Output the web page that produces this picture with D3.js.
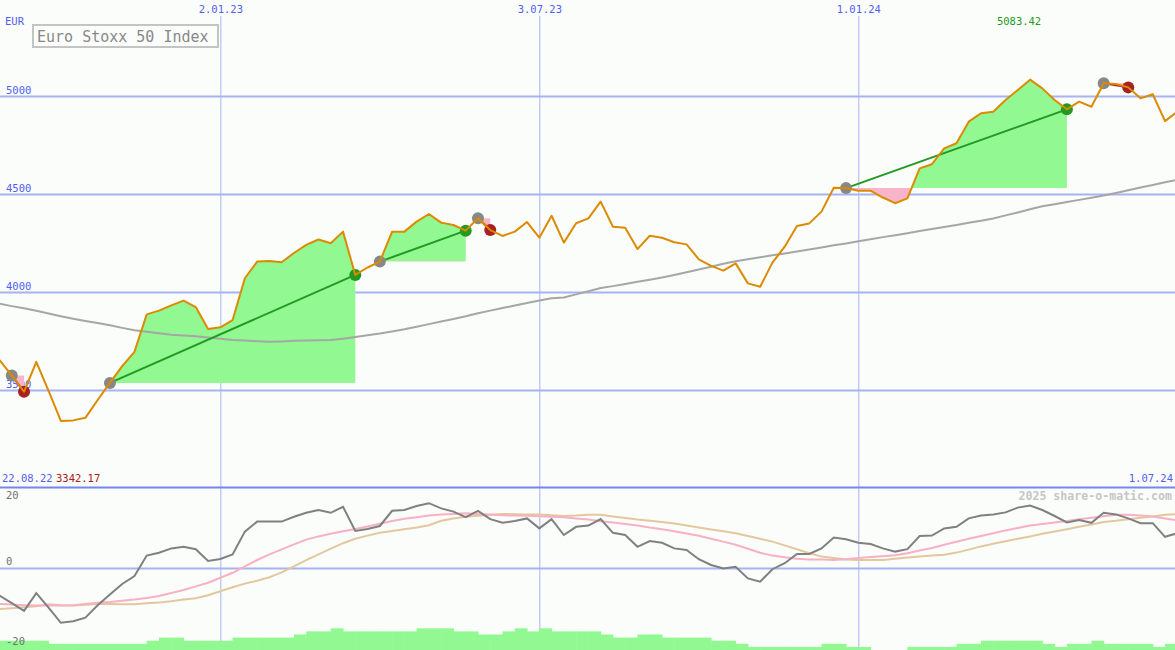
<!DOCTYPE html>
<html><head><meta charset="utf-8">
<script src="https://cdn.jsdelivr.net/npm/d3@7"></script>
<style>html,body{margin:0;padding:0;background:#fbfdfb;} svg{display:block;font-family:"DejaVu Sans Mono",monospace;}</style>
</head><body><svg id="c" width="1175" height="650"></svg>
<script>
// ---- data (weekly, starting Monday 2022-08-29) ----
const firstWeek = "2022-08-29";
const lastWeek = "2024-07-01";
const price = [3653,3574,3491,3644,3496,3342.17,3345,3358,3449,3536,
3622,3695,3886,3905,3932,3956,3923,3811,3820,3857,
4070,4155,4158,4152,4199,4240,4268,4249,4308,4087,
4125,4155,4308,4308,4359,4398,4354,4342,4313,4376,
4316,4286,4308,4357,4277,4389,4252,4351,4376,4461,
4333,4328,4219,4287,4277,4254,4243,4167,4133,4109,
4146,4044,4027,4150,4231,4337,4350,4410,4532,4530,
4517,4517,4482,4453,4478,4631,4652,4733,4759,4869,
4912,4920,4980,5031,5083.42,5039,4980,4932,4971,4945,
5065,5061,5044,4988,5009,4872,4920];
const movingAvg = [3940,3928,3917,3904,3890,3876,3863,3852,3842,3830,
3817,3805,3797,3789,3782,3778,3774,3768,3761,3755,
3752,3749,3746,3748,3751,3752,3754,3755,3762,3770,
3779,3788,3799,3810,3823,3836,3849,3862,3876,3892,
3905,3918,3931,3944,3957,3968,3972,3988,4004,4020,
4030,4041,4052,4063,4074,4087,4101,4115,4129,4144,
4157,4167,4177,4187,4197,4207,4217,4227,4238,4248,
4259,4269,4280,4290,4300,4311,4321,4332,4342,4353,
4363,4375,4391,4406,4422,4437,4448,4459,4470,4481,
4492,4505,4519,4533,4546,4560,4573];
const oscillator = [-6.9,-8.8,-10.7,-6.3,-9.9,-13.7,-13.3,-12.4,-9.3,-6.6,
-4,-2,3.1,3.8,4.9,5.3,4.7,1.75,2.25,3.4,
9.1,11.6,11.6,11.6,12.8,13.8,14.5,13.8,15.3,9.25,
9.75,10.5,14.3,14.5,15.5,16.2,14.9,14.1,12.7,14.3,
12.2,11.3,11.75,12.4,9.9,12.2,8.25,10.3,10.6,12.25,
8.8,8.25,5.3,6.75,6.3,4.9,4.5,2.2,0.75,-0.1,
0.3,-2.6,-3.4,-0.3,1.2,3.5,3.5,4.9,7.6,7.2,
6.3,6,4.9,4.1,4.7,8,8.1,9.9,10.3,12.4,
13.1,13.4,13.9,15.1,15.6,14.5,13,11.4,12,11.3,
13.8,13.4,12.4,11.2,11.2,7.8,8.7];
const signalPink = [-9,-9.15,-9.3,-9.4,-9.4,-9.4,-9.3,-9,-8.7,-8.5,
-8.2,-7.9,-7.5,-7,-6.25,-5.5,-4.6,-3.7,-2.45,-1.2,
0.4,2,3.4,4.65,5.9,7.1,7.9,8.55,9.2,9.75,
10.4,11.05,11.75,12.3,12.7,13.1,13.35,13.5,13.7,13.5,
13.4,13.2,13.1,13.05,12.95,12.8,12.7,12.4,12.1,11.7,
11.35,11,10.6,10.1,9.7,9.2,8.6,8.05,7.3,6.6,
5.8,4.8,3.8,3.1,2.7,2.3,2.1,2.1,2,2.2,
2.5,2.75,2.95,3.2,3.7,4.35,5,5.8,6.55,7.3,
8,8.7,9.4,10,10.6,11,11.4,11.75,12.2,12.55,
12.95,13.3,13.3,13.1,12.9,12.4,11.9];
const signalTan = [-10.25,-10.05,-9.8,-9.55,-9.05,-9.3,-9.35,-9.2,-9,-9,
-9.05,-9.05,-8.8,-8.6,-8.3,-7.9,-7.55,-6.8,-5.8,-4.8,
-3.9,-3.2,-2.3,-1.1,0.4,1.95,3.4,4.85,6.2,7.3,
8.1,8.8,9.25,9.7,10.1,10.7,11.8,12.35,12.8,13.05,
13.3,13.5,13.45,13.4,13.35,13.2,13,13.1,13.3,13.3,
12.9,12.5,12.1,11.8,11.5,11.1,10.6,10.1,9.65,9.2,
8.7,8,7.3,6.6,5.65,4.7,3.7,2.85,2.5,2.1,
2,2,2,2.3,2.6,2.9,3.1,3.3,3.85,4.6,
5.4,6.05,6.7,7.3,7.9,8.55,9.15,9.7,10.3,10.9,
11.5,11.8,12.2,12.55,12.9,13.3,13.5];
const histogram = [3,3,3,3,2,2,2,2,2,2,2,2,3,4,4,3,3,3,3,4,4,4,4,4,5,6,6,7,6,6,6,6,6,6,7,7,7,6,6,5,5,6,7,6,7,6,6,6,6,5,4,4,5,5,4,4,4,4,3,3,2,1,1,1,1,1,1,2,2,1,1,0,0,0,1,1,1,1,2,2,3,3,3,3,3,2,1,2,2,3,2,2,2,2,1,2,2];
const trades = [
  {buy:"2022-09-05", sell:"2022-09-12"},
  {buy:"2022-10-31", sell:"2023-03-20"},
  {buy:"2023-04-03", sell:"2023-05-22"},
  {buy:"2023-05-29", sell:"2023-06-05"},
  {buy:"2023-12-25", sell:"2024-04-29"},
  {buy:"2024-05-20", sell:"2024-06-03"}
];
const gridDates = ["2023-01-02","2023-07-03","2024-01-01"];
const gridLabels = ["2.01.23","3.07.23","1.01.24"];
const priceTicks = [3500,4000,4500,5000];
const oscTicks = [-20,0,20];
const oscTickLabels = ["-20","0","20"];
const title = "Euro Stoxx 50 Index";
const currency = "EUR";
const startLabel = "22.08.22";
const endLabel = "1.07.24";
const copyright = "2025 share-o-matic.com";

// ---- setup ----
const W = 1175, H = 650;
const svg = d3.select("#c");
const parse = d3.utcParse("%Y-%m-%d");
const t0 = parse(firstWeek);
const dates = price.map((_, i) => d3.utcDay.offset(t0, 7 * i));
const dateIndex = new Map(dates.map((d, i) => [+d, i]));
const x = d3.scaleUtc().domain([t0, parse(lastWeek)]).range([-0.5, 1177.3]);
const y = d3.scaleLinear().domain([3000, 5400]).range([488, 17.6]);
const yL = d3.scaleLinear().domain([-20, 20]).range([648, 488]);
const yH = d3.scaleLinear().domain([0, 10]).range([650, 619]);

const C = {grid:"#a8b4f2", sep:"#7686ec", lab:"#5060f0", price:"#dc8a00", ma:"#a6a6a6",
  green:"#92f892", pink:"#f8b4c8", gline:"#229a22", red:"#a82020", grey:"#888888",
  osc:"#808080", opink:"#f8b0c4", otan:"#e2c89c"};

svg.append("rect").attr("width", W).attr("height", H).attr("fill", "#fbfdfb");

// vertical grid + top date labels
const xAxis = d3.axisTop(x).tickValues(gridDates.map(parse))
  .tickFormat((d, i) => gridLabels[i]).tickSize(-(H - 16)).tickPadding(3);
const gx = svg.append("g").attr("transform", "translate(0,16)").call(xAxis);
gx.select(".domain").remove();
gx.selectAll("line").attr("stroke", C.grid).attr("stroke-width", 1);
gx.selectAll("text").attr("fill", C.lab).attr("font-size", 10.5).attr("font-family", "DejaVu Sans Mono");

// horizontal price grid + labels
const yAxis = d3.axisLeft(y).tickValues(priceTicks).tickFormat(d3.format("d")).tickSize(-W);
const gy = svg.append("g").call(yAxis);
gy.select(".domain").remove();
gy.selectAll("line").attr("stroke", C.grid).attr("stroke-width", 2);
gy.selectAll("text").attr("x", 6).attr("dy", 0).attr("y", -3).attr("text-anchor", "start")
  .attr("fill", C.lab).attr("font-size", 10.5).attr("font-family", "DejaVu Sans Mono");

// lower panel zero line
const yAxisL = d3.axisLeft(yL).tickValues([0]).tickSize(-W).tickFormat("");
const gl = svg.append("g").call(yAxisL);
gl.select(".domain").remove();
gl.selectAll("line").attr("stroke", C.grid).attr("stroke-width", 2);

// trade fills
const defs = svg.append("defs");
trades.forEach((t, n) => {
  const i0 = dateIndex.get(+parse(t.buy)), i1 = dateIndex.get(+parse(t.sell));
  const entry = price[i0];
  const seg = d3.range(i0, i1 + 1);
  const area = d3.area().x(i => x(dates[i])).y0(y(entry)).y1(i => y(price[i]));
  defs.append("clipPath").attr("id", "up" + n).append("rect")
    .attr("x", 0).attr("y", 0).attr("width", W).attr("height", y(entry));
  defs.append("clipPath").attr("id", "dn" + n).append("rect")
    .attr("x", 0).attr("y", y(entry)).attr("width", W).attr("height", 488 - y(entry));
  svg.append("path").attr("d", area(seg)).attr("fill", C.green).attr("clip-path", `url(#up${n})`);
  svg.append("path").attr("d", area(seg)).attr("fill", C.pink).attr("clip-path", `url(#dn${n})`);
});

// moving average
const line = d3.line().x((d, i) => x(dates[i]));
svg.append("path").attr("d", line.y(d => y(d))(movingAvg))
  .attr("fill", "none").attr("stroke", C.ma).attr("stroke-width", 2);

// trade lines and dots
trades.forEach(t => {
  const i0 = dateIndex.get(+parse(t.buy)), i1 = dateIndex.get(+parse(t.sell));
  const gain = price[i1] > price[i0];
  svg.append("line").attr("x1", x(dates[i0])).attr("y1", y(price[i0]))
    .attr("x2", x(dates[i1])).attr("y2", y(price[i1]))
    .attr("stroke", gain ? C.gline : C.red).attr("stroke-width", 2);
  svg.append("circle").attr("cx", x(dates[i0])).attr("cy", y(price[i0])).attr("r", 6).attr("fill", C.grey);
  svg.append("circle").attr("cx", x(dates[i1])).attr("cy", y(price[i1])).attr("r", 6)
    .attr("fill", gain ? C.gline : C.red);
});

// price line
svg.append("path").attr("d", d3.line().x((d, i) => x(dates[i])).y(d => y(d))(price))
  .attr("fill", "none").attr("stroke", C.price).attr("stroke-width", 2).attr("stroke-linejoin", "round");

// legend box
svg.append("rect").attr("x", 33).attr("y", 25).attr("width", 185).attr("height", 22)
  .attr("fill", "none").attr("stroke", "#c4c4c4").attr("stroke-width", 2);
svg.append("text").attr("x", 37).attr("y", 42).text(title)
  .attr("fill", "#888").attr("font-size", 15);
svg.append("text").attr("x", 5).attr("y", 25).text(currency).attr("fill", C.lab).attr("font-size", 10.5);

// max label
const iMax = d3.maxIndex(price);
svg.append("text").attr("x", x(dates[iMax]) - 11).attr("y", 25).attr("text-anchor", "middle")
  .text(d3.format(".2f")(price[iMax])).attr("fill", C.gline).attr("font-size", 10.5);

// lower panel: histogram
svg.append("g").selectAll("rect").data(histogram).join("rect")
  .attr("x", (d, i) => x(dates[i])).attr("width", (d, i) => x(d3.utcDay.offset(dates[i], 7)) - x(dates[i]) + 0.5)
  .attr("y", d => yH(d)).attr("height", d => yH(0) - yH(d)).attr("fill", C.green);

// lower lines
const lineL = d3.line().x((d, i) => x(dates[i])).y(d => yL(d));
svg.append("path").attr("d", lineL(signalTan)).attr("fill", "none").attr("stroke", C.otan).attr("stroke-width", 2);
svg.append("path").attr("d", lineL(signalPink)).attr("fill", "none").attr("stroke", C.opink).attr("stroke-width", 2);
svg.append("path").attr("d", lineL(oscillator)).attr("fill", "none").attr("stroke", C.osc).attr("stroke-width", 2);

// separator
svg.append("line").attr("x1", 0).attr("x2", W).attr("y1", 487.5).attr("y2", 487.5)
  .attr("stroke", C.sep).attr("stroke-width", 2);

// lower axis labels
svg.append("g").selectAll("text").data(oscTicks).join("text")
  .attr("x", 6).attr("y", d => Math.max(yL(d) - 3, 499)).text((d, i) => oscTickLabels[i])
  .attr("fill", "#707070").attr("font-size", 10.5);

// min label & date range
const iMin = d3.minIndex(price);
svg.append("text").attr("x", 2).attr("y", 482).text(startLabel).attr("fill", C.lab).attr("font-size", 10.5);
svg.append("text").attr("x", 56).attr("y", 482).text(d3.format(".2f")(price[iMin])).attr("fill", C.red).attr("font-size", 10.5);
svg.append("text").attr("x", 1173).attr("y", 482).attr("text-anchor", "end").text(endLabel).attr("fill", C.lab).attr("font-size", 10.5);
svg.append("text").attr("x", 1172).attr("y", 500).attr("text-anchor", "end").text(copyright)
  .attr("fill", "#c6c6c6").attr("font-size", 11.6).attr("font-weight", "bold");
</script></body></html>
